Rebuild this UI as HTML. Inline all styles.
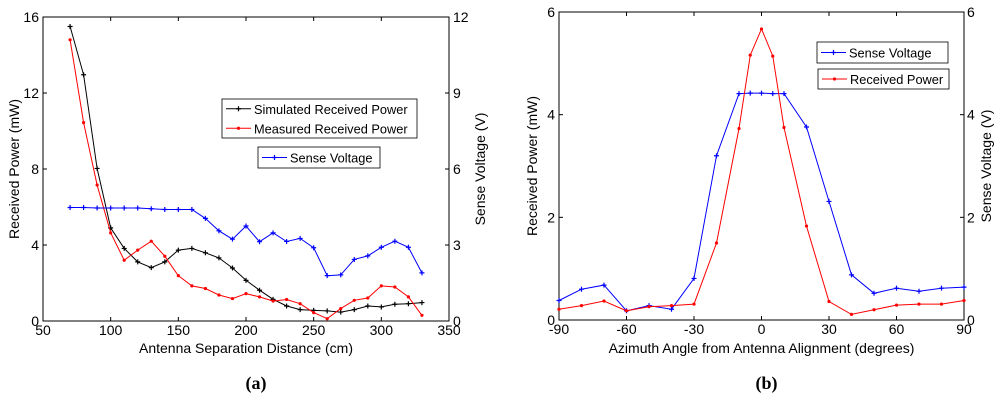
<!DOCTYPE html>
<html><head><meta charset="utf-8"><style>
body{margin:0;background:#fff}
svg{display:block;font-family:"Liberation Sans",Arial,sans-serif}
</style></head><body>
<svg id="c" width="1000" height="407"></svg>
<script>
const leftX=[70,80,90,100,110,120,130,140,150,160,170,180,190,200,210,220,230,240,250,260,270,280,290,300,310,320,330];
const simPower=[15.5,12.96,8.03,4.9,3.82,3.11,2.81,3.11,3.73,3.82,3.59,3.32,2.79,2.14,1.62,1.14,0.79,0.6,0.56,0.53,0.47,0.6,0.79,0.74,0.88,0.91,0.97];
const measPower=[14.8,10.44,7.16,4.64,3.2,3.73,4.2,3.41,2.39,1.85,1.71,1.37,1.18,1.44,1.27,1.05,1.13,0.91,0.44,0.12,0.65,1.09,1.21,1.85,1.79,1.27,0.3];
const leftVolt=[4.48,4.48,4.46,4.46,4.46,4.46,4.43,4.4,4.4,4.4,4.05,3.56,3.23,3.75,3.13,3.48,3.14,3.26,2.89,1.79,1.82,2.43,2.57,2.91,3.15,2.91,1.9];
const leftXTicks=[50,100,150,200,250,300,350];
const leftYTicks=[0,4,8,12,16];
const leftY2Ticks=[0,3,6,9,12];
const rightX=[-90,-80,-70,-60,-50,-40,-30,-20,-10,-5,0,5,10,20,30,40,50,60,70,80,90];
const rightVolt=[0.38,0.6,0.68,0.18,0.28,0.21,0.81,3.2,4.41,4.42,4.42,4.41,4.41,3.76,2.31,0.88,0.52,0.62,0.56,0.62,0.64];
const rightPower=[0.21,0.28,0.37,0.18,0.26,0.28,0.31,1.5,3.73,5.16,5.67,5.14,3.75,1.83,0.36,0.11,0.2,0.29,0.31,0.31,0.38];
const rightXTicks=[-90,-60,-30,0,30,60,90];
const rightYTicks=[0,2,4,6];

const svg=document.getElementById('c');
const NS='http://www.w3.org/2000/svg';
function mk(tag,attrs,parent){const e=document.createElementNS(NS,tag);for(const k in attrs)e.setAttribute(k,attrs[k]);(parent||svg).appendChild(e);return e;}
function txt(s,attrs,parent){const e=mk('text',attrs,parent);e.textContent=s;return e;}
function lin(d0,d1,r0,r1){return v=>r0+(v-d0)/(d1-d0)*(r1-r0);}
const FS=14;

function axesBox(g,x0,x1,y0,y1){
  mk('rect',{x:x0,y:y0,width:x1-x0,height:y1-y0,fill:'#fff',stroke:'#000','stroke-width':1},g);
}
function series(g,xs,ys,sx,sy,color,marker,name){
  const pts=xs.map((x,i)=>sx(x).toFixed(1)+','+sy(ys[i]).toFixed(1)).join(' ');
  const pl=mk('polyline',{points:pts,fill:'none',stroke:color,'stroke-width':1},g);
  
  
  xs.forEach((x,i)=>{
    const cx=sx(x),cy=sy(ys[i]);
    let m;
    if(marker==='dot'){m=mk('circle',{cx:cx,cy:cy,r:1.6,fill:color},g);}
    else{m=mk('path',{d:`M${cx-2.5},${cy}H${cx+2.5}M${cx},${cy-2.5}V${cy+2.5}`,stroke:color,'stroke-width':1.2},g);}
    
    
  });
}
function legendBox(g,x,y,w,h,items){
  mk('rect',{x:x,y:y,width:w,height:h,fill:'#fff',stroke:'#000','stroke-width':0.8},g);
  items.forEach((it,i)=>{
    const yy=y+h/(items.length)*(i+0.5);
    const e=mk('g',{},g);
    
    
    mk('line',{x1:x+4,x2:x+29,y1:yy,y2:yy,stroke:it.c},e);
    if(it.m==='dot')mk('circle',{cx:x+16.5,cy:yy,r:1.6,fill:it.c},e);
    else mk('path',{d:`M${x+14},${yy}H${x+19}M${x+16.5},${yy-2.5}V${yy+2.5}`,stroke:it.c,'stroke-width':1.2},e);
    txt(it.t,{x:x+32,y:yy+5,'font-size':12.8},e);
  });
}

// LEFT CHART
(function(){
  const x0=43,x1=449,y0=17,y1=321;
  const g=mk('g',{});
  axesBox(g,x0,x1,y0,y1);
  const sx=lin(50,350,x0,x1),sy=lin(0,16,y1,y0),sy2=lin(0,12,y1,y0);
  leftXTicks.forEach(t=>{const x=sx(t);
    mk('line',{x1:x,x2:x,y1:y1,y2:y1-4,stroke:'#000'},g);mk('line',{x1:x,x2:x,y1:y0,y2:y0+4,stroke:'#000'},g);
    const e=txt(t,{x:x,y:y1+14,'font-size':FS,'text-anchor':'middle'},g);});
  leftYTicks.forEach(t=>{const y=sy(t);
    mk('line',{x1:x0,x2:x0+4,y1:y,y2:y,stroke:'#000'},g);
    const e=txt(t,{x:x0-4,y:y+5,'font-size':FS,'text-anchor':'end'},g);});
  leftY2Ticks.forEach(t=>{const y=sy2(t);
    mk('line',{x1:x1,x2:x1-4,y1:y,y2:y,stroke:'#000'},g);
    const e=txt(t,{x:x1+4,y:y+5,'font-size':FS},g);});
  series(g,leftX,simPower,sx,sy,'#000','plus','simulated-power');
  series(g,leftX,measPower,sx,sy,'#f00','dot','measured-power');
  series(g,leftX,leftVolt,sx,sy2,'#00f','plus','sense-voltage');
  let e=txt('Antenna Separation Distance (cm)',{x:(x0+x1)/2,y:353,'font-size':FS,'text-anchor':'middle'},g);
  e=txt('Received Power (mW)',{x:0,y:0,'font-size':FS,'text-anchor':'middle',transform:`translate(19,${(y0+y1)/2}) rotate(-90)`},g);
  e=txt('Sense Voltage (V)',{x:0,y:0,'font-size':FS,'text-anchor':'middle',transform:`translate(485,${(y0+y1)/2}) rotate(-90)`},g);
  legendBox(g,222,99,195,39,[{t:'Simulated Received Power',c:'#000',m:'plus'},{t:'Measured Received Power',c:'#f00',m:'dot'}]);
  legendBox(g,258,147,122,21,[{t:'Sense Voltage',c:'#00f',m:'plus'}]);
  e=txt('(a)',{x:(x0+x1)/2+10,y:389,'font-size':18,'font-weight':'bold','text-anchor':'middle','font-family':'Liberation Serif, serif'},g);
})();

// RIGHT CHART
(function(){
  const x0=559,x1=964,y0=12,y1=320;
  const g=mk('g',{});
  axesBox(g,x0,x1,y0,y1);
  const sx=lin(-90,90,x0,x1),sy=lin(0,6,y1,y0);
  rightXTicks.forEach(t=>{const x=sx(t);
    mk('line',{x1:x,x2:x,y1:y1,y2:y1-4,stroke:'#000'},g);mk('line',{x1:x,x2:x,y1:y0,y2:y0+4,stroke:'#000'},g);
    const e=txt(t,{x:x,y:y1+14,'font-size':FS,'text-anchor':'middle'},g);});
  rightYTicks.forEach(t=>{const y=sy(t);
    mk('line',{x1:x0,x2:x0+4,y1:y,y2:y,stroke:'#000'},g);mk('line',{x1:x1,x2:x1-4,y1:y,y2:y,stroke:'#000'},g);
    let e=txt(t,{x:x0-4,y:y+5,'font-size':FS,'text-anchor':'end'},g);
    e=txt(t,{x:x1+3,y:y+5,'font-size':FS},g);});
  series(g,rightX,rightVolt,sx,sy,'#00f','plus','sense-voltage');
  series(g,rightX,rightPower,sx,sy,'#f00','dot','received-power');
  let e=txt('Azimuth Angle from Antenna Alignment (degrees)',{x:(x0+x1)/2,y:353,'font-size':FS,'text-anchor':'middle'},g);
  e=txt('Received Power (mW)',{x:0,y:0,'font-size':FS,'text-anchor':'middle',transform:`translate(537,${(y0+y1)/2}) rotate(-90)`},g);
  e=txt('Sense Voltage (V)',{x:0,y:0,'font-size':FS,'text-anchor':'middle',transform:`translate(991,${(y0+y1)/2}) rotate(-90)`},g);
  legendBox(g,817,42,131,21,[{t:'Sense Voltage',c:'#00f',m:'plus'}]);
  legendBox(g,818,69,131,20,[{t:'Received Power',c:'#f00',m:'dot'}]);
  e=txt('(b)',{x:(x0+x1)/2+5,y:389,'font-size':18,'font-weight':'bold','text-anchor':'middle','font-family':'Liberation Serif, serif'},g);
})();
</script>
</body></html>
